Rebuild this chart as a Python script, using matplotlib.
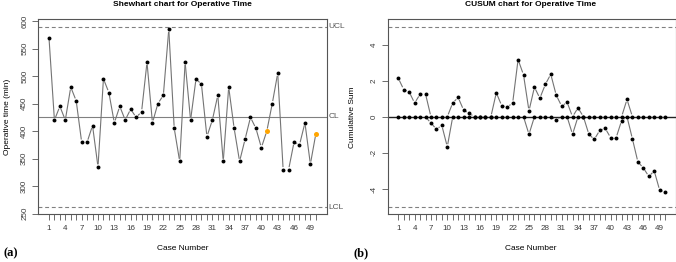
"""Shewhart and CUSUM charts for operative time, drawn in the R/qcc look."""
import numpy as np
import matplotlib
matplotlib.use("Agg")
import matplotlib.pyplot as plt
from matplotlib.collections import LineCollection

# --- data ---
cases = list(range(1, 51))
op_time = [570, 420, 445, 420, 480, 455, 380, 380, 410, 335,
           495, 470, 415, 445, 420, 440, 425, 435, 525, 415,
           450, 465, 585, 405, 345, 525, 420, 495, 485, 390,
           420, 465, 345, 480, 405, 345, 385, 425, 405, 370,
           400, 450, 505, 330, 330, 380, 375, 415, 340, 395]
flagged = [41, 50]          # points drawn in orange
center, ucl, lcl = 426, 590, 262

cusum_upper = [2.14, 1.51, 1.38, 0.76, 1.25, 1.27, 0, 0, 0, 0,
               0.77, 1.07, 0.37, 0.20, 0, 0, 0, 0, 1.33, 0.61,
               0.54, 0.76, 3.17, 2.32, 0.33, 1.64, 1.03, 1.79, 2.36, 1.20,
               0.59, 0.81, 0, 0.50, 0, 0, 0, 0, 0, 0,
               0, 0, 0.96, 0, 0, 0, 0, 0, 0, 0]
cusum_lower = [0, 0, 0, 0, 0, 0, -0.35, -0.68, -0.48, -1.66,
               0, 0, 0, 0, 0, 0, 0, 0, 0, 0,
               0, 0, 0, 0, -0.97, 0, 0, 0, 0, -0.17,
               0, 0, -0.97, 0, 0, -0.97, -1.25, -0.75, -0.64, -1.16,
               -1.16, -0.22, 0, -1.23, -2.50, -2.83, -3.30, -3.00, -4.07, -4.16]
cusum_h = 5

xtick_labels = list(range(1, 51, 3))

W, H = 676, 262
plt.rcParams["font.family"] = ["Liberation Sans", "DejaVu Sans"]

LINE = "#747474"
FRAME = "#555555"


def px(x, y):
    """pixel position (from top-left) -> figure fraction"""
    return x / W, 1 - y / H


def gapped_line(ax, x, y, gap=2.6, **kw):
    # R type="b": segments stop short of each point
    pts = ax.transData.transform(np.column_stack([x, y]))
    segs = []
    for p, q in zip(pts[:-1], pts[1:]):
        d = q - p
        L = np.hypot(*d)
        if L <= 2 * gap:
            continue
        u = d / L
        segs.append(np.array([p + u * gap, q - u * gap]))
    inv = ax.transData.inverted()
    ax.add_collection(LineCollection([inv.transform(s) for s in segs], **kw))


def style_axes(ax, ylo, yhi, yticks):
    ax.set_xlim(1 - 1.96, 50 + 1.96)
    ax.set_ylim(ylo, yhi)
    ax.set_xticks(cases)
    ax.set_xticklabels([str(c) if c in xtick_labels else "" for c in cases])
    ax.set_yticks(yticks)
    ax.set_yticklabels([str(t) for t in yticks], rotation=90, va="center")
    ax.tick_params(axis="both", length=4.3, width=0.6, color=FRAME,
                   labelsize=5.8, labelcolor="#3a3a3a")
    ax.tick_params(axis="x", pad=3.5)
    ax.tick_params(axis="y", pad=3)
    for s in ax.spines.values():
        s.set_color(FRAME)
        s.set_linewidth(0.8)


fig = plt.figure(figsize=(W / 100, H / 100), dpi=100)

# ---- (a) Shewhart chart ----
l, b = px(38.3, 214.3)
ax1 = fig.add_axes([l, b, 288.2 / W, 195 / H])
style_axes(ax1, 248.9, 603.1, [250, 300, 350, 400, 450, 500, 550, 600])
for lim in (ucl, lcl):
    ax1.axhline(lim, color="#808080", lw=0.8, ls=(0, (3.5, 2.5)))
ax1.axhline(center, color="#808080", lw=0.8)
gapped_line(ax1, cases, op_time, color=LINE, lw=0.8)
normal = [c not in flagged for c in cases]
ax1.scatter(np.array(cases)[normal], np.array(op_time)[normal], s=8,
            c="black", zorder=3, linewidths=0)
ax1.scatter(flagged, [op_time[c - 1] for c in flagged], s=13,
            c="orange", zorder=3, linewidths=0)
for lab, v in (("UCL", ucl), ("CL", center), ("LCL", lcl)):
    ax1.text(1.006, v, lab, transform=ax1.get_yaxis_transform(),
             ha="left", va="center", fontsize=6, color="#555555", clip_on=False)
fig.text(*px(182.4, 5), "Shewhart chart for Operative Time",
         ha="center", va="center", fontsize=6, fontweight="bold")
fig.text(*px(182.4, 249), "Case Number", ha="center", va="center", fontsize=6)
fig.text(*px(8, 117), "Operative time (min)", ha="center", va="center",
         rotation=90, fontsize=6)
fig.text(*px(10.5, 253), "(a)", ha="center", va="center", fontsize=9,
         fontweight="bold", family="Liberation Serif")

# ---- (b) CUSUM chart ----
l, b = px(387.6, 214.3)
ax2 = fig.add_axes([l, b, 288.2 / W, 195 / H])
style_axes(ax2, -cusum_h * 1.08, cusum_h * 1.08, [-4, -2, 0, 2, 4])
for lim in (cusum_h, -cusum_h):
    ax2.axhline(lim, color="#808080", lw=0.8, ls=(0, (3.5, 2.5)))
ax2.axhline(0, color="#222222", lw=1.0)
gapped_line(ax2, cases, cusum_upper, color=LINE, lw=0.8)
gapped_line(ax2, cases, cusum_lower, color=LINE, lw=0.8)
ax2.scatter(cases, cusum_upper, s=8, c="black", zorder=3, linewidths=0)
ax2.scatter(cases, cusum_lower, s=8, c="black", zorder=3, linewidths=0)
fig.text(*px(531, 5), "CUSUM chart for Operative Time",
         ha="center", va="center", fontsize=6, fontweight="bold")
fig.text(*px(531, 249), "Case Number", ha="center", va="center", fontsize=6)
fig.text(*px(353, 117), "Cumulative Sum", ha="center", va="center",
         rotation=90, fontsize=6)
fig.text(*px(361, 253), "(b)", ha="center", va="center", fontsize=9,
         fontweight="bold", family="Liberation Serif")

fig.savefig("out.png", dpi=100)
plt.close(fig)
